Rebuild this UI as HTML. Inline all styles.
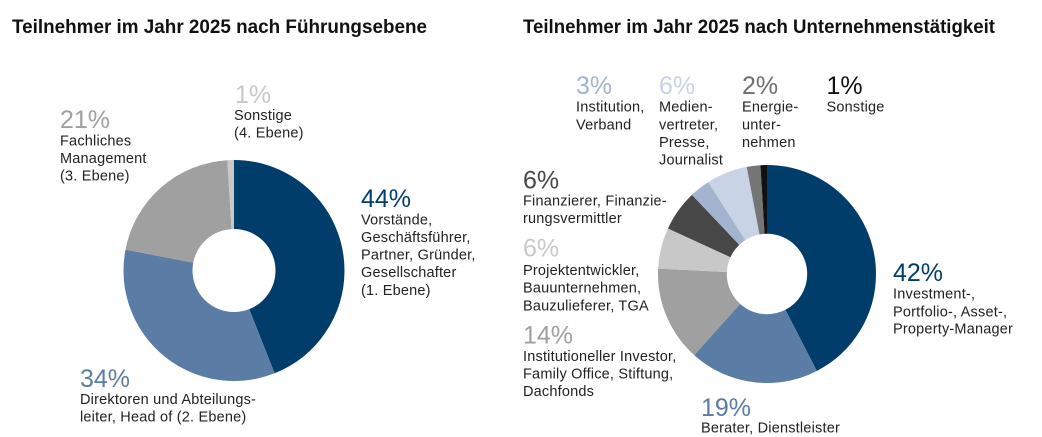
<!DOCTYPE html>
<html>
<head>
<meta charset="utf-8">
<style>
html,body{margin:0;padding:0;background:#fff;}
svg{display:block;}
.t{font-family:"Liberation Sans",sans-serif;font-weight:bold;font-size:19px;fill:#111;}
.p{font-family:"Liberation Sans",sans-serif;font-size:25px;font-weight:300;}
.d{font-family:"Liberation Sans",sans-serif;font-size:14.5px;letter-spacing:0.2px;fill:#222;}
</style>
</head>
<body>
<svg width="1042" height="437" viewBox="0 0 1042 437" xmlns="http://www.w3.org/2000/svg">
<rect width="1042" height="437" fill="#fff"/>
<text class="t" x="12" y="33" textLength="415" lengthAdjust="spacingAndGlyphs">Teilnehmer im Jahr 2025 nach Führungsebene</text>
<text class="t" x="523" y="33" textLength="472" lengthAdjust="spacingAndGlyphs">Teilnehmer im Jahr 2025 nach Unternehmenstätigkeit</text>

<!-- Left donut -->
<g transform="rotate(-90 234 270.5)" fill="none" stroke-width="69">
<circle cx="234" cy="270.5" r="76" stroke="#013d6b" stroke-dasharray="210.11 600" stroke-dashoffset="0"/>
<circle cx="234" cy="270.5" r="76" stroke="#5a7ca5" stroke-dasharray="162.36 600" stroke-dashoffset="-210.11"/>
<circle cx="234" cy="270.5" r="76" stroke="#a0a0a0" stroke-dasharray="100.28 600" stroke-dashoffset="-372.47"/>
<circle cx="234" cy="270.5" r="76" stroke="#c8c8c8" stroke-dasharray="4.78 600" stroke-dashoffset="-472.75"/>
</g>

<!-- Right donut -->
<g transform="rotate(-90 767 274)" fill="none" stroke-width="68.8">
<circle cx="767" cy="274" r="74.6" stroke="#013d6b" stroke-dasharray="198.86 600" stroke-dashoffset="0"/>
<circle cx="767" cy="274" r="74.6" stroke="#5a7ca5" stroke-dasharray="89.96 600" stroke-dashoffset="-198.86"/>
<circle cx="767" cy="274" r="74.6" stroke="#a0a0a0" stroke-dasharray="66.29 600" stroke-dashoffset="-288.82"/>
<circle cx="767" cy="274" r="74.6" stroke="#c8c8c8" stroke-dasharray="28.41 600" stroke-dashoffset="-355.11"/>
<circle cx="767" cy="274" r="74.6" stroke="#474747" stroke-dasharray="28.41 600" stroke-dashoffset="-383.52"/>
<circle cx="767" cy="274" r="74.6" stroke="#a3b4d0" stroke-dasharray="14.20 600" stroke-dashoffset="-411.93"/>
<circle cx="767" cy="274" r="74.6" stroke="#c8d3e5" stroke-dasharray="28.41 600" stroke-dashoffset="-426.13"/>
<circle cx="767" cy="274" r="74.6" stroke="#757575" stroke-dasharray="9.47 600" stroke-dashoffset="-454.54"/>
<circle cx="767" cy="274" r="74.6" stroke="#111111" stroke-dasharray="4.73 600" stroke-dashoffset="-464.01"/>
</g>

<!-- Left labels -->
<text class="p" x="235" y="103" fill="#c8c8c8">1%</text>
<text class="d" x="234" y="120">Sonstige</text>
<text class="d" x="234" y="137.5">(4. Ebene)</text>

<text class="p" x="60" y="128" fill="#a0a0a0">21%</text>
<text class="d" x="60" y="145.5">Fachliches</text>
<text class="d" x="60" y="163">Management</text>
<text class="d" x="60" y="180.5">(3. Ebene)</text>

<text class="p" x="361" y="207" fill="#013d6b">44%</text>
<text class="d" x="361" y="224.5">Vorstände,</text>
<text class="d" x="361" y="242">Geschäftsführer,</text>
<text class="d" x="361" y="259.5">Partner, Gründer,</text>
<text class="d" x="361" y="277">Gesellschafter</text>
<text class="d" x="361" y="295">(1. Ebene)</text>

<text class="p" x="80" y="387" fill="#5a7ca5">34%</text>
<text class="d" x="80" y="404">Direktoren und Abteilungs-</text>
<text class="d" x="80" y="421.5">leiter, Head of (2. Ebene)</text>

<!-- Right labels -->
<text class="p" x="576" y="94" fill="#a3b4d0">3%</text>
<text class="d" x="576" y="111.7">Institution,</text>
<text class="d" x="576" y="129.3">Verband</text>

<text class="p" x="659" y="94" fill="#c8d3e5">6%</text>
<text class="d" x="659" y="111.7">Medien-</text>
<text class="d" x="659" y="129.3">vertreter,</text>
<text class="d" x="659" y="147">Presse,</text>
<text class="d" x="659" y="164.7">Journalist</text>

<text class="p" x="742" y="94" fill="#6f6f6f">2%</text>
<text class="d" x="742" y="111.7">Energie-</text>
<text class="d" x="742" y="129.3">unter-</text>
<text class="d" x="742" y="147">nehmen</text>

<text class="p" x="826.5" y="94" fill="#111">1%</text>
<text class="d" x="826.5" y="111.7">Sonstige</text>

<text class="p" x="523" y="188.7" fill="#474747">6%</text>
<text class="d" x="523" y="205.5">Finanzierer, Finanzie-</text>
<text class="d" x="523" y="223">rungsvermittler</text>

<text class="p" x="523" y="256.7" fill="#c8c8c8">6%</text>
<text class="d" x="523" y="275">Projektentwickler,</text>
<text class="d" x="523" y="292.7">Bauunternehmen,</text>
<text class="d" x="523" y="310.3">Bauzulieferer, TGA</text>

<text class="p" x="523" y="343.3" fill="#a0a0a0">14%</text>
<text class="d" x="523" y="361">Institutioneller Investor,</text>
<text class="d" x="523" y="378.5">Family Office, Stiftung,</text>
<text class="d" x="523" y="396">Dachfonds</text>

<text class="p" x="893" y="281" fill="#013d6b">42%</text>
<text class="d" x="893" y="298.7">Investment-,</text>
<text class="d" x="893" y="316.3">Portfolio-, Asset-,</text>
<text class="d" x="893" y="333.7">Property-Manager</text>

<text class="p" x="701" y="416" fill="#5a7ca5">19%</text>
<text class="d" x="701" y="432.5">Berater, Dienstleister</text>
</svg>
</body>
</html>
